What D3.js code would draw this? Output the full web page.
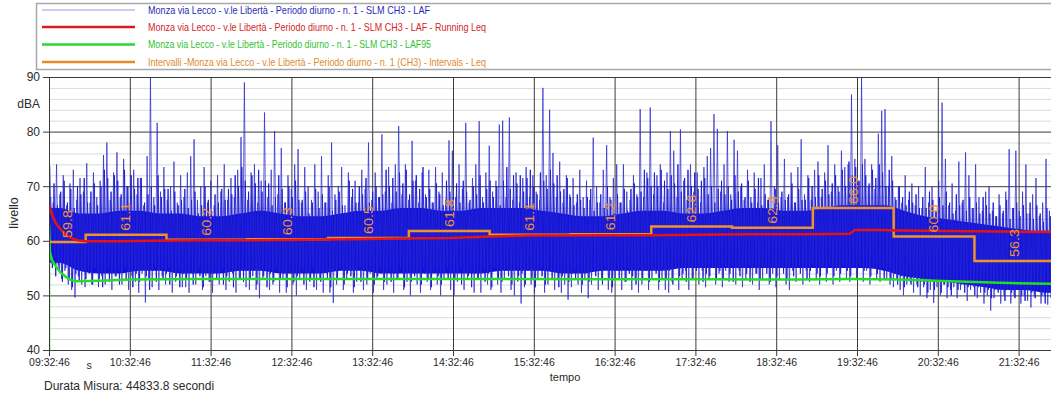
<!DOCTYPE html>
<html>
<head>
<meta charset="utf-8">
<script src="https://cdn.jsdelivr.net/npm/d3@7"></script>
<style>
  html, body { margin: 0; padding: 0; background: #fff; }
  svg { display: block; font-family: "Liberation Sans", Arial, sans-serif; }
</style>
</head>
<body>
<svg id="chart" width="1051" height="396"></svg>
<script>
// ---- Measurement data -------------------------------------------------------
const startClock = "09:32:46";
const durationSec = 44833.8;
const tickLabels = ["09:32:46","10:32:46","11:32:46","12:32:46","13:32:46","14:32:46",
  "15:32:46","16:32:46","17:32:46","18:32:46","19:32:46","20:32:46","21:32:46"];
const levelTicks = [40, 50, 60, 70, 80, 90];

const legendLabels = [
  "Monza via Lecco - v.le Libertà - Periodo diurno - n. 1 - SLM CH3 - LAF",
  "Monza via Lecco - v.le Libertà - Periodo diurno - n. 1 - SLM CH3 - LAF - Running Leq",
  "Monza via Lecco - v.le Libertà - Periodo diurno - n. 1 - SLM CH3 - LAF95",
  "Intervalli -Monza via Lecco - v.le Libertà - Periodo diurno - n. 1 (CH3) - Intervals - Leq"
];

// LAF: upper excursions (evenly spaced through the measurement)
const lafPeaks = [
  73.7,67,74,68.5,72,66.5,70.5,73,67.5,71.5,69,74.2,67,72.5,68,71,75.7,78,67.5,72.5,
  76.2,68,75,70,67,73,68.5,71.5,66.5,75.5,90,68,81.6,69,73.5,67.5,70,74.5,67,72,
  68,72.5,75.5,78.6,67.5,70,73.5,67,71,66.5,72,69,74,67.5,71.5,68,73,79,89,67.5,
  72.5,74,67,71,83.5,68,73,80.1,68.5,77,67,72,69.5,74,76.8,67,73.5,70,67.5,74,
  69,75.5,67,72,78,68.5,70,73.5,66.5,72.5,68,71,67,73,69.5,78,67.5,72.5,68,79.5,
  69,73.5,67,74,81,68.5,74,67.5,78.3,71,67,72.5,68.5,73,67,73.5,69,72.5,67.5,78.4,
  76.5,68,74,69.5,81.6,67,71.5,74,81.9,68,72.5,77.4,69,71,81.3,82,68,82.6,67.5,72.5,
  67,71.5,73.5,68,72,69,67.5,88,72,84,76.1,68,74.5,67,72,68.5,71.5,67,73,68,
  71,67.5,78.9,70,67,73,77.5,68,71.5,74,67,74,69,67.5,72,68.5,84.1,68,72.5,84.4,
  68.5,72,74,67,72.5,80.1,76.5,68,80.4,71,67.5,74,69,72.5,67,73.5,75.5,77,83.2,80.5,
  69,74,80.1,68.5,78.5,76.5,70,67.5,73,68,72.5,67,71.5,74,67.5,81.9,70,77.5,68,75,
  68,72.5,67,73.5,78.6,68.5,72,67.5,73,74.5,68,72.5,77.5,69,74,70,76.5,73.5,74,86.8,
  75,71,89.9,75,70,74,69.5,79.6,83.8,84.1,70,75.5,68,70,67,72,67.5,70.5,66.5,70,
  66,73.5,67,70,65.5,71,85.3,75,66.5,70.5,65.5,74.5,67,76.2,72,66,74,68,65.5,69,
  70,65.5,64.5,68.5,65,69,76.8,66,76.5,65.5,69,74,65,68.5,71.5,64.5,67,75,65.5,76
];
// LAF: lower excursions, interleaved with the peaks
const lafDips = [
  60,57,55.5,53,54.5,52,51,49.6,53.5,52,51.5,54.5,52,55,51.5,53.5,52,55,51,53.5,
  54.5,52,55,51,53.5,52.5,50.5,54,48.7,53,51.5,55,51,53.5,52,55,50.5,52.5,54.5,51.5,
  51.5,50.5,54,52,55,51,53.5,52.5,50.5,54.5,52,55,51,52.5,54,50.5,53,54.5,51.5,51,
  53.5,51,49.5,53,54.5,51,52,55,50.5,53,50.5,54,52,50,53,54.5,51,52.5,55,51,
  53,50.5,54,50.5,48.6,52,55,51,53,54.5,50.5,52.5,55,51,52,54,50.5,53,55,51,
  52,54.5,50.5,53,55,51,52.5,50,54,52,50.5,55,52.5,51,54.5,52,50,53,55,51,
  50,52.5,55,51,53,54.5,50.5,53,50.5,54.5,52,51,55,52,50.5,53,54.5,51,50,52.5,
  48.5,51.5,54.5,52,50.5,53,55,50.5,52,54.5,51,53,50.5,52,49.2,51.5,54.5,52,50.5,53,
  49.5,52,54.5,51,53,55,51,50.5,53,54.5,51,52.5,55,51,53,50.5,52,54.5,51,53,
  54.5,51,53,51,50.5,52.5,55,51,53,54.5,51,53,55,52,54.5,51.5,53,55,52,54,
  51.5,54.5,52.5,55.5,52,54.5,51.5,53,55.5,52,54,51,53,55,52,54,51.5,53,55,52,
  51,54.5,52.5,55.5,52,54.5,52.5,55.5,53,52,55,52.5,55.5,52,54.5,52.5,55.5,53,52.5,55,
  53,55.5,52.5,54.5,52,55,53,52.5,55,53,52,51.5,53,51,50,52,52.5,50.5,52,50,
  51.5,49.5,51,48.6,51.5,50,52,49.5,51,51.5,49.5,51,52,49,51,51.5,49.5,50.5,48.5,50,
  47.2,49.5,51,48.5,50,51,48.5,50,51,48.5,50,49,47.8,50,51,48.5,50,48.3,49.5,50.5
];
// LAF: intermediate excursions between the ones above
const lafPeaksMid = [
  68,70.5,66.5,69,71,67,69.5,66,70,68.5,71.5,67,69,70.5,66.5,70,73,71.5,69,72,
  71,68.5,73,70,72,69.5,71.5,71.5,67,68.5,70,66.5,72,68,69.5,69.5,65.5,69,66.5,67.5,
  69.5,66,67.5,69,65,66.5,70,67.5,65.5,68.5,67,69.5,67.5,69.5,68.5,72,70,73.5,71,69,
  72,70.5,73,69,71,70.5,66.5,68,72,69.5,67,70,68,71,67.5,67.5,69,65,67,69.5,
  66,68.5,67,70,65.5,67.5,69,66.5,65,71,69.5,67,70,68.5,71.5,67,69,70,68,68.5,
  73,70,71.5,69,72.5,70.5,73,68.5,71,72,69.5,73.5,68,69.5,67,70.5,68.5,66.5,71,69,
  68,70.5,67,71,69,67.5,70,68.5,72,67,69.5,71,68,70,66.5,71,73.5,69.5,72,70.5,
  72,69,71.5,73,70,68.5,72.5,71,69.5,73,70.5,72,69,69.5,71.5,68,66.5,68.5,67.5,66,
  68,69.5,65.5,67,68.5,66,70,67.5,65,68.5,67,69.5,65.5,69.5,70.5,68,69,73,71.5,70,
  72.5,70,73,71,69.5,72,70.5,74,69,71.5,73,70,72.5,69.5,71,71.5,68.5,70,67,69.5,
  71,68.5,70,67.5,72,69,70.5,68,71,67,69.5,71.5,66.5,68.5,67.5,66,69.5,67,69,67.5,
  68.5,70.5,67,69.5,67.5,67.5,71.5,70,68,72,69.5,71,68.5,70.5,72,69,73,70,74.5,72,
  73.5,71,74,72,70.5,73,71.5,74,72.5,70,73,71,67.5,70,68,66.5,69,67,68.5,66,
  68,66,69,67.5,65.5,68,66.5,69,67,65,68.5,66.5,67.5,65.5,68,66,67,65,68,66.5,
  65,67,64.5,66.5,65.5,67.5,64,66,67,64.5,66.5,65,67,64,66.5,65,63.5,66,64.5,66
];
const lafDipsMid = [
  55,53.5,54.5,52.5,55,53,51.5,54,52.5,55,53,54,52,55.5,53,51.5,54.5,52.5,55,53.5,
  52,54.5,53,55.5,51.5,54,52.5,55,53.5,51,54.5,52.5,55,53,54,52,55.5,53.5,51.5,54,
  53,55,52,54.5,53.5,51.5,55,52.5,54,53,55.5,52,53.5,54.5,51.5,55,53,52.5,54.5,53,
  54.5,52,55,53.5,51.5,54,52.5,55.5,53,54,51.5,55,52.5,53.5,54.5,52,55,53,51.5,54.5,
  52.5,55,53,51.5,54.5,53,55.5,52,54,53.5,51.5,55,52.5,54.5,53,55,52,53.5,54,52.5,
  55,52.5,54,53,55.5,51.5,54.5,52.5,53.5,55,52,54,53,51.5,55,53.5,52,54.5,53,55,
  53,54.5,52,55,53.5,51.5,54,53,55.5,52.5,54,51.5,55,53,52.5,54.5,53.5,52,55,53.5,
  54,52,55,53,51.5,54.5,53.5,52,55,53,54.5,51.5,53.5,55,52.5,54,53,55.5,52,54,
  52.5,55,53.5,54.5,52,55.5,53,51.5,54.5,53,55,52.5,54,53.5,52,55,53,54.5,52.5,55,
  54,52.5,55.5,53,54.5,52,55,53.5,54,52.5,55.5,53,54.5,55,52.5,54,53.5,55.5,53,54.5,
  53,55.5,54,52.5,55,53.5,56,54,52.5,55,54,53,55.5,54,52.5,55,53.5,56,54,53,
  55,53.5,56,54,55.5,53,54.5,56,54,53.5,55.5,54,56,53.5,55,54,56,54.5,53.5,55.5,
  54,56,54.5,55,53.5,55.5,54,56,53,54.5,53,54,52,53.5,51.5,53,52,53.5,51.5,52.5,
  52,50.5,52.5,51,53,50.5,52,51.5,50,52.5,51,52,50.5,51.5,52.5,50,51.5,52,50.5,51,
  49.5,51,50.5,52,49,51,50.5,49.5,51.5,50,49,51,50.5,49.5,51,50,48.5,50.5,49.5,51
];
// LAF: bulk of the signal (upper / lower edge of the dense band)
const lafCoreHigh = [66,65,65,65.5,65.5,65,65,64.5,64.5,65, 65.5,65,64.5,64.5,65,65.5,65.5,66,66,65.5,
  65.5,66,66,66,65.5,65,64.5,64.5,65,65.5, 65.5,65,65,65.5,66,66,65.5,65.5,66,66.5,
  66.5,66.5,65.5,64.5,64,63.5,63,62.5,62,61.5];
const lafCoreLow = [56,54.5,54,54,54.5,54.5,54,54,54,54.5, 54.5,54,54,54,54.5,54.5,54,54,54,54,
  54,54,54.5,54.5,54.5,54,54,54.5,54.5,54.5, 54.5,55,55,55,55,55,55,55,55,55,
  55,54.5,53.5,53,52.5,52,51.5,51,51,50.5];

// Running Leq (elapsed minutes, dB)
const runningLeqMin = [0,1.5,3,5.2,8.2,11.9,15.6,20.8,26.7,52.7,75,112,149,186,223.5,260.6,297.8,
  327.5,357,409,446,483.7,520.8,557.9,594.8,598.5,617,632,669,706,747.2];
const runningLeq = [66.6,65.5,64.3,63.2,62.2,61.3,60.6,60.1,59.9,59.9,60.0,60.1,60.1,60.2,60.3,60.4,60.5,
  60.8,60.95,61.0,61.0,61.1,61.2,61.2,61.3,62.0,62.0,61.9,61.8,61.7,61.6];

// LAF95 (elapsed minutes, dB)
const laf95Min = [0,0,0.7,2.2,4.5,8.2,11.9,15.6,19.3,37.9,60,112,186,260.6,335,409,483.7,557.9,594.8,632,669,706,747.2];
const laf95 = [40,63,58,56.5,55.5,54.3,53.5,52.9,52.6,52.7,52.9,53.0,53.0,53.0,53.0,52.95,52.95,52.9,53.0,52.9,52.6,52.3,52.1];

// Hourly interval Leq
const intervalStart = ["09:32:46","10:00:00","11:00:00","12:00:00","13:00:00","14:00:00","15:00:00",
  "16:00:00","17:00:00","18:00:00","19:00:00","20:00:00","21:00:00"];
const intervalLeq = [59.8,61.1,60.2,60.3,60.5,61.8,61.1,61.2,62.6,62.4,66.0,60.8,56.3];

// ---- Scales -----------------------------------------------------------------
const parseClock = d3.timeParse("%H:%M:%S");
const t0 = parseClock(startClock);
const tEnd = new Date(+t0 + durationSec * 1000);
const atMin = m => new Date(+t0 + m * 60000);
const atFrac = f => new Date(+t0 + f * durationSec * 1000);

const plotLeft = 49, plotTop = 77, plotBottom = 350;
const plotRight = plotLeft + durationSec / 3600 * 80.8;

const x = d3.scaleTime().domain([t0, tEnd]).range([plotLeft, plotRight]);
const y = d3.scaleLinear().domain([40, 90]).range([plotBottom, plotTop]);

const svg = d3.select("#chart");
const gridColor = "#3c3c3c";

// ---- Legend -----------------------------------------------------------------
const legendColors = ["#9a9ae0", "#d81c1c", "#2ed62e", "#e88a2c"];
const legendText = ["#2b2bb8", "#d42424", "#33c233", "#e08a2e"];
const legendWidths = [282, 338, 283, 338];
const legendY = [10, 27, 44.5, 62];
svg.append("rect").attr("x", 36.5).attr("y", 3.5).attr("width", 1030).attr("height", 66)
  .attr("fill", "#fff").attr("stroke", "#a8a8a8").attr("stroke-width", 1.5);
legendLabels.forEach((lab, i) => {
  svg.append("line").attr("x1", 42).attr("x2", 135).attr("y1", legendY[i]).attr("y2", legendY[i])
    .attr("stroke", legendColors[i]).attr("stroke-width", i === 0 ? 1.2 : 2.6);
  svg.append("text").attr("x", 148).attr("y", legendY[i]).attr("dy", "0.35em")
    .attr("font-size", 11).attr("fill", legendText[i])
    .attr("textLength", legendWidths[i]).attr("lengthAdjust", "spacingAndGlyphs")
    .text(lab);
});

// ---- Grid -------------------------------------------------------------------
const minorLevels = d3.range(40, 91, 2).filter(v => v % 10 !== 0);
svg.append("g").selectAll("line").data(minorLevels).join("line")
  .attr("x1", plotLeft).attr("x2", plotRight)
  .attr("y1", d => y(d) + 0.5).attr("y2", d => y(d) + 0.5)
  .attr("stroke", "#dadada").attr("stroke-width", 1);

const tickDates = tickLabels.map(parseClock);

svg.append("g").attr("transform", `translate(0,${plotBottom})`)
  .call(d3.axisBottom(x).tickValues(tickDates).tickSize(-(plotBottom - plotTop)).tickFormat(""))
  .call(g => g.select(".domain").remove())
  .call(g => g.selectAll("line").attr("stroke", gridColor));

svg.append("g").attr("transform", `translate(${plotLeft},0)`)
  .call(d3.axisLeft(y).tickValues(levelTicks).tickSize(-(plotRight - plotLeft)).tickFormat(""))
  .call(g => g.select(".domain").remove())
  .call(g => g.selectAll("line").attr("stroke", gridColor));

// ---- Data -------------------------------------------------------------------
svg.append("clipPath").attr("id", "plotClip").append("rect")
  .attr("x", plotLeft).attr("y", plotTop).attr("width", plotRight - plotLeft).attr("height", plotBottom - plotTop);
const plot = svg.append("g").attr("clip-path", "url(#plotClip)");

// dense band of the LAF signal
const coreBins = lafCoreHigh.map((h, i) => ({ t: atFrac((i + 0.5) / lafCoreHigh.length), hi: h, lo: lafCoreLow[i] }));
coreBins.unshift({ t: t0, hi: lafCoreHigh[0], lo: lafCoreLow[0] });
coreBins.push({ t: tEnd, hi: lafCoreHigh[lafCoreHigh.length - 1], lo: lafCoreLow[lafCoreLow.length - 1] });
plot.append("path").datum(coreBins)
  .attr("d", d3.area().x(d => x(d.t)).y0(d => y(d.lo)).y1(d => y(d.hi)).curve(d3.curveMonotoneX))
  .attr("fill", "#1010e0");

// LAF traces: peaks and dips alternate in time
function zigzag(highs, lows, phaseHigh, phaseLow) {
  const pts = [];
  const n = highs.length;
  highs.forEach((p, i) => {
    pts.push({ t: atFrac(Math.min(1, (i + phaseHigh) / n)), v: p });
    pts.push({ t: atFrac(Math.min(1, (i + phaseLow) / n)), v: lows[i] });
  });
  return pts;
}
const traceLine = d3.line().x(d => x(d.t)).y(d => y(d.v));

plot.append("path").datum(zigzag(lafPeaksMid, lafDipsMid, 0.5, 1.0))
  .attr("d", traceLine)
  .attr("fill", "none").attr("stroke", "#1414dc").attr("stroke-width", 1)
  .attr("stroke-opacity", 0.88);

plot.append("path").datum(zigzag(lafPeaks, lafDips, 0.25, 0.75))
  .attr("d", traceLine)
  .attr("fill", "none").attr("stroke", "#2a2acc").attr("stroke-width", 1)
  .attr("stroke-opacity", 0.72);

// LAF95
plot.append("path").datum(laf95Min.map((m, i) => ({ t: atMin(m), v: laf95[i] })))
  .attr("d", d3.line().x(d => x(d.t)).y(d => y(d.v)))
  .attr("fill", "none").attr("stroke", "#22dd22").attr("stroke-width", 2.5);

// Interval Leq steps
const intervalDates = intervalStart.map(parseClock);
const stepPts = intervalDates.map((d, i) => ({ t: d, v: intervalLeq[i] }));
stepPts.push({ t: tEnd, v: intervalLeq[intervalLeq.length - 1] });
plot.append("path").datum(stepPts)
  .attr("d", d3.line().x(d => x(d.t)).y(d => y(d.v)).curve(d3.curveStepAfter))
  .attr("fill", "none").attr("stroke", "#f0922c").attr("stroke-width", 2.5);

// Running Leq
plot.append("path").datum(runningLeqMin.map((m, i) => ({ t: atMin(m), v: runningLeq[i] })))
  .attr("d", d3.line().x(d => x(d.t)).y(d => y(d.v)))
  .attr("fill", "none").attr("stroke", "#e41414").attr("stroke-width", 2.5);

// Interval value labels, rotated
intervalDates.forEach((d, i) => {
  const end = i + 1 < intervalDates.length ? intervalDates[i + 1] : tEnd;
  const cx = (x(d) + x(end)) / 2;
  const by = y(intervalLeq[i]) - 4;
  svg.append("text")
    .attr("transform", `translate(${cx},${by}) rotate(-90)`)
    .attr("dy", "0.36em")
    .attr("font-size", 12).attr("fill", "#ee9436")
    .attr("textLength", 28).attr("lengthAdjust", "spacingAndGlyphs")
    .text(intervalLeq[i].toFixed(1));
});

// ---- Axes -------------------------------------------------------------------
const yAxis = svg.append("g").attr("transform", `translate(${plotLeft},0)`)
  .call(d3.axisLeft(y).tickValues(levelTicks).tickSize(6).tickPadding(3).tickFormat(d3.format("d")));
yAxis.select(".domain").attr("stroke", gridColor);
yAxis.selectAll("line").attr("stroke", gridColor);
yAxis.selectAll("text").attr("font-size", 12).attr("fill", "#2a2a2a").attr("font-family", "Liberation Sans, Arial, sans-serif");

const xAxis = svg.append("g").attr("transform", `translate(0,${plotBottom})`)
  .call(d3.axisBottom(x).tickValues(tickDates).tickSize(6).tickPadding(3).tickFormat(d3.timeFormat("%H:%M:%S")));
xAxis.select(".domain").attr("stroke", gridColor);
xAxis.selectAll("line").attr("stroke", gridColor);
xAxis.selectAll("text").attr("font-size", 10.5).attr("fill", "#2a2a2a").attr("font-family", "Liberation Sans, Arial, sans-serif");

// top frame line
svg.append("line").attr("x1", plotLeft).attr("x2", plotRight).attr("y1", plotTop + 0.5).attr("y2", plotTop + 0.5)
  .attr("stroke", gridColor);

// ---- Titles -----------------------------------------------------------------
svg.append("text").attr("x", 40).attr("y", 108).attr("text-anchor", "end")
  .attr("font-size", 12).attr("fill", "#2a2a2a").text("dBA");
svg.append("text").attr("transform", "translate(14,213) rotate(-90)").attr("text-anchor", "middle")
  .attr("dy", "0.35em").attr("font-size", 12.5).attr("fill", "#2a2a2a").text("livello");
svg.append("text").attr("x", 89).attr("y", 369).attr("text-anchor", "middle")
  .attr("font-size", 10.5).attr("fill", "#2a2a2a").text("s");
svg.append("text").attr("x", 565).attr("y", 381).attr("text-anchor", "middle")
  .attr("font-size", 11).attr("fill", "#2a2a2a").text("tempo");
svg.append("text").attr("x", 44).attr("y", 390)
  .attr("font-size", 12).attr("fill", "#2a2a2a").text("Durata Misura: 44833.8 secondi");
</script>
</body>
</html>
